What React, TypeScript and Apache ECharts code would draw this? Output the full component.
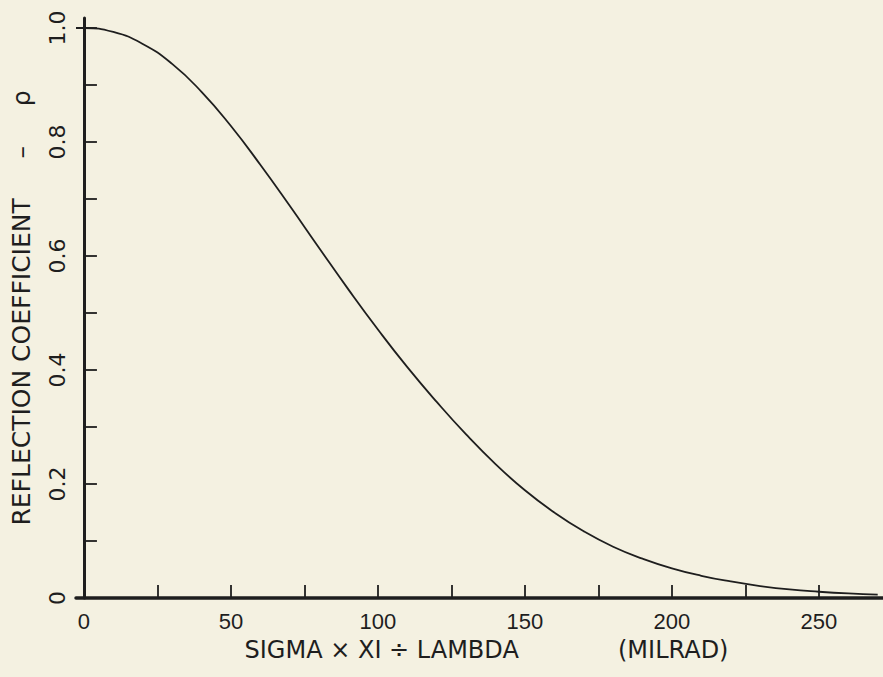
import React, { useEffect, useRef } from "react";
import * as echarts from "echarts";

const xValues = [-2.7, 0, 10, 20, 30, 40, 50, 60, 70, 80, 90, 100, 110, 120, 130, 140, 150, 160, 170, 180, 190, 200, 210, 220, 230, 240, 250, 260, 270];
const rhoValues = [1.0, 1.0, 0.993, 0.972, 0.937, 0.888, 0.828, 0.76, 0.688, 0.614, 0.541, 0.471, 0.405, 0.344, 0.287, 0.235, 0.189, 0.15, 0.117, 0.09, 0.069, 0.052, 0.039, 0.029, 0.021, 0.015, 0.011, 0.008, 0.006];
const xTicks = [0, 25, 50, 75, 100, 125, 150, 175, 200, 225, 250];
const xLabels = [0, 50, 100, 150, 200, 250];
const yTicks = [0, 0.1, 0.2, 0.3, 0.4, 0.5, 0.6, 0.7, 0.8, 0.9, 1.0];
const yLabels = [0, 0.2, 0.4, 0.6, 0.8, 1.0];
const xName = "SIGMA × XI ÷ LAMBDA             (MILRAD)";
const yName = "REFLECTION COEFFICIENT     –     ρ";

const INK = "#1e1e1e";
const FONT = "Liberation Sans";
const NAME_FONT = "DejaVu Sans";

export default function App() {
  const ref = useRef<HTMLDivElement>(null);
  useEffect(() => {
    if (!ref.current) return;
    const chart = echarts.init(ref.current, null, { renderer: "svg" });
    chart.setOption({
      animation: false,
      backgroundColor: "#f4f1e1",
      grid: { left: 76, right: 0, top: 18, bottom: 79 },
      xAxis: {
        type: "value",
        min: -2.7,
        max: 271.8,
        name: xName,
        nameLocation: "middle",
        nameGap: 40,
        nameTextStyle: { color: INK, fontFamily: NAME_FONT, fontSize: 24, padding: [0, 0, 0, 14] },
        axisLine: { show: true, lineStyle: { color: INK, width: 3.5 } },
        axisTick: { show: true, inside: true, length: 13, customValues: xTicks, lineStyle: { color: INK, width: 1.8 } },
        axisLabel: {
          customValues: xLabels,
          color: INK,
          fontFamily: FONT,
          fontSize: 22,
          margin: 12,
        },
        splitLine: { show: false },
      },
      yAxis: {
        type: "value",
        min: 0,
        max: 1.0175,
        name: yName,
        nameLocation: "middle",
        nameGap: 42,
        nameRotate: 90,
        nameTextStyle: { color: INK, fontFamily: NAME_FONT, fontSize: 25 },
        axisLine: { show: true, lineStyle: { color: INK, width: 3 } },
        axisTick: { show: true, inside: true, length: 13, customValues: yTicks, lineStyle: { color: INK, width: 1.8 } },
        axisLabel: {
          customValues: yLabels,
          rotate: 90,
          color: INK,
          fontFamily: NAME_FONT,
          fontSize: 22,
          margin: 8,
          formatter: (v: number) => (v === 0 ? "0" : v.toFixed(1)),
        },
        splitLine: { show: false },
      },
      series: [
        {
          type: "line",
          data: xValues.map((x, i) => [x, rhoValues[i]]),
          smooth: true,
          showSymbol: false,
          lineStyle: { color: INK, width: 1.8 },
        },
      ],
    });
    return () => chart.dispose();
  }, []);
  return <div ref={ref} style={{ width: 883, height: 677, position: "absolute", left: 0, top: 0 }} />;
}
